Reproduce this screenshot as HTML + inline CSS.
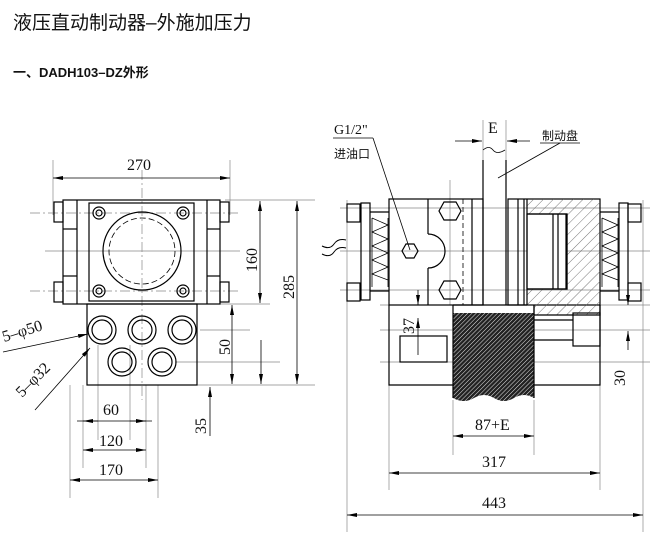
<!DOCTYPE html>
<html><head><meta charset="utf-8"><style>
html,body{margin:0;padding:0;background:#fff;width:650px;height:539px;overflow:hidden}
svg{display:block}
.t{font-family:"Liberation Sans","Noto Sans CJK SC",sans-serif}
.d{font-family:"Liberation Serif","Noto Serif CJK SC",serif;font-size:16px}
</style></head><body>
<svg width="650" height="539" viewBox="0 0 650 539" xmlns="http://www.w3.org/2000/svg">
<defs>
<pattern id="h1" width="3" height="3" patternUnits="userSpaceOnUse" patternTransform="rotate(45)"><rect width="3" height="3" fill="#222"/><line x1="0" y1="0" x2="0" y2="3" stroke="#fff" stroke-width="0.9"/></pattern>
<pattern id="h2" width="7" height="7" patternUnits="userSpaceOnUse" patternTransform="rotate(45)"><line x1="0" y1="0" x2="0" y2="7" stroke="#555" stroke-width="0.8"/></pattern>
<marker id="a" viewBox="0 0 10 4" refX="10" refY="2" markerWidth="10" markerHeight="4" orient="auto-start-reverse" markerUnits="userSpaceOnUse"><path d="M0,0L10,2L0,4z" fill="#000"/></marker>
</defs>
<text x="13" y="29" class="t" font-size="19" fill="#111">液压直动制动器–外施加压力</text>
<text x="13" y="77" class="t" font-size="13" font-weight="bold" fill="#111">一、DADH103–DZ外形</text>

<g stroke="#888" stroke-width="0.7" fill="none">
<line x1="53" y1="160" x2="53" y2="215"/><line x1="230" y1="160" x2="230" y2="215"/>
<line x1="225" y1="200" x2="315" y2="200"/><line x1="200" y1="304" x2="270" y2="304"/>
<line x1="200" y1="330" x2="250" y2="330"/><line x1="175" y1="362" x2="280" y2="362"/>
<line x1="197" y1="385" x2="315" y2="385"/>
<line x1="70" y1="385" x2="70" y2="498"/><line x1="158" y1="385" x2="158" y2="498"/>
<line x1="83" y1="385" x2="83" y2="468"/><line x1="146" y1="385" x2="146" y2="468"/>
<line x1="98" y1="345" x2="98" y2="440"/><line x1="130" y1="345" x2="130" y2="440"/>
<line x1="142" y1="170" x2="142" y2="400" stroke-dasharray="10,3,2,3"/>
<line x1="45" y1="251" x2="240" y2="251"/>
<line x1="30" y1="213" x2="240" y2="213" stroke-dasharray="10,3,2,3"/>
<line x1="30" y1="291" x2="240" y2="291" stroke-dasharray="10,3,2,3"/>
<line x1="347" y1="200" x2="347" y2="532"/><line x1="643" y1="200" x2="643" y2="532"/>
<line x1="389" y1="385" x2="389" y2="490"/><line x1="600" y1="385" x2="600" y2="490"/>
<line x1="453" y1="400" x2="453" y2="455"/><line x1="534" y1="400" x2="534" y2="455"/>
<line x1="483" y1="120" x2="483" y2="160"/><line x1="506" y1="120" x2="506" y2="160"/>
<line x1="340" y1="251" x2="650" y2="251"/>
<line x1="340" y1="290" x2="650" y2="290"/><line x1="340" y1="208" x2="650" y2="208"/>
<line x1="380" y1="305" x2="650" y2="305"/><line x1="380" y1="330" x2="650" y2="330"/>
<line x1="380" y1="362" x2="650" y2="362"/>
<line x1="450" y1="180" x2="450" y2="305"/>
</g>

<g stroke="#000" stroke-width="1.2" fill="none">
<rect x="63" y="200" width="157" height="104"/>
<line x1="77" y1="200" x2="77" y2="304"/><line x1="207" y1="200" x2="207" y2="304"/>
<line x1="63" y1="229" x2="77" y2="229"/><line x1="63" y1="276" x2="77" y2="276"/>
<line x1="207" y1="229" x2="220" y2="229"/><line x1="207" y1="276" x2="220" y2="276"/>
<rect x="89" y="203" width="105" height="98"/>
<circle cx="142" cy="251" r="39"/>
<circle cx="142" cy="251" r="33" stroke-dasharray="6,3" stroke-width="0.8"/>
<circle cx="99" cy="213" r="6"/><circle cx="99" cy="213" r="3"/>
<circle cx="183" cy="213" r="6"/><circle cx="183" cy="213" r="3"/>
<circle cx="99" cy="291" r="6"/><circle cx="99" cy="291" r="3"/>
<circle cx="183" cy="291" r="6"/><circle cx="183" cy="291" r="3"/>
<rect x="54" y="202" width="9" height="20"/><rect x="54" y="282" width="9" height="20"/>
<rect x="220" y="202" width="9" height="20"/><rect x="220" y="282" width="9" height="20"/>
<rect x="87" y="304" width="110" height="81"/>
<circle cx="102" cy="330" r="14"/><circle cx="102" cy="330" r="10"/>
<circle cx="142" cy="330" r="14"/><circle cx="142" cy="330" r="10"/>
<circle cx="182" cy="330" r="14"/><circle cx="182" cy="330" r="10"/>
<circle cx="122" cy="362" r="14"/><circle cx="122" cy="362" r="10"/>
<circle cx="162" cy="362" r="14"/><circle cx="162" cy="362" r="10"/>
</g>
<g stroke="#000" stroke-width="0.8" fill="none">
<line x1="53" y1="178" x2="230" y2="178" marker-start="url(#a)" marker-end="url(#a)"/>
<line x1="260" y1="201" x2="260" y2="303" marker-start="url(#a)" marker-end="url(#a)"/>
<line x1="297" y1="201" x2="297" y2="384" marker-start="url(#a)" marker-end="url(#a)"/>
<line x1="232" y1="305" x2="232" y2="384" marker-start="url(#a)" marker-end="url(#a)"/>
<line x1="261" y1="340" x2="261" y2="384" marker-end="url(#a)"/>
<line x1="210" y1="436" x2="210" y2="387" marker-end="url(#a)"/>
<line x1="77" y1="421" x2="152" y2="421"/>
<line x1="83" y1="421" x2="98" y2="421" marker-start="url(#a)"/>
<line x1="130" y1="421" x2="146" y2="421" marker-end="url(#a)"/>
<line x1="83" y1="450" x2="146" y2="450" marker-start="url(#a)" marker-end="url(#a)"/>
<line x1="70" y1="480" x2="158" y2="480" marker-start="url(#a)" marker-end="url(#a)"/>
<line x1="3" y1="352" x2="88" y2="334" marker-end="url(#a)"/>
<line x1="35" y1="410" x2="90" y2="348" marker-end="url(#a)"/>
</g>
<g class="d" fill="#111">
<text x="127" y="170">270</text>
<text transform="translate(257,272) rotate(-90)">160</text>
<text transform="translate(294,299) rotate(-90)">285</text>
<text transform="translate(230,355) rotate(-90)">50</text>
<text transform="translate(206,434) rotate(-90)">35</text>
<text x="103" y="415">60</text>
<text x="99" y="446">120</text>
<text x="99" y="475">170</text>
<text transform="translate(4,342) rotate(-17)">5–φ50</text>
<text transform="translate(22,398) rotate(-45)">5–φ32</text>
</g>

<g stroke="#000" stroke-width="1.2" fill="none">
<path d="M483,160 L483,305 M506,160 L506,305"/>
<path d="M483,150 q6,-5 10,0 t12,0" stroke-width="0.8"/>
<rect x="389" y="199" width="94" height="106"/>
<line x1="428" y1="199" x2="428" y2="234"/><line x1="428" y1="268" x2="428" y2="305"/>
<path d="M428,234 A17,17 0 0 1 428,268"/>
<line x1="463" y1="199" x2="463" y2="305" stroke-dasharray="5,3" stroke-width="0.8"/>
<line x1="472" y1="199" x2="472" y2="305"/>
<polygon points="444,202 456,202 461,211 456,220 444,220 439,211"/>
<polygon points="444,281 456,281 461,290 456,299 444,299 439,290"/>
<polygon points="406,244 414,244 418,251 414,258 406,258 402,251"/>
<rect x="508" y="199" width="92" height="106"/>
<line x1="518" y1="199" x2="518" y2="305"/><line x1="524" y1="199" x2="524" y2="305"/>
<path d="M527,199 H600 V315 H534 V305 H527 Z" fill="url(#h2)" stroke="none"/>
<rect x="527" y="214" width="40" height="75" fill="#fff"/>
<line x1="553" y1="214" x2="553" y2="289"/><line x1="558" y1="214" x2="558" y2="289"/><line x1="566" y1="214" x2="566" y2="289"/>
<path d="M527,214 H567 V289 H527"/>
<path d="M527,199 V305"/>
<path d="M534,305 V315 H600 V305"/>
<!-- left spring pack -->
<rect x="347" y="204" width="13" height="18"/><rect x="347" y="283" width="13" height="18"/>
<rect x="361" y="203" width="9" height="97"/>
<path d="M370,212 h19 M370,291 h19"/>
<path d="M372,218 l16,7 l-16,7 l16,7 l-16,7 l16,7 l-16,7 l16,7 l-16,7 l16,6 M372,218 v69 M388,218 v69" stroke-width="0.8"/>
<!-- right spring pack -->
<rect x="628" y="204" width="13" height="18"/><rect x="628" y="283" width="13" height="18"/>
<rect x="619" y="203" width="9" height="97"/>
<path d="M600,212 h19 M600,291 h19"/>
<path d="M602,218 l16,7 l-16,7 l16,7 l-16,7 l16,7 l-16,7 l16,7 l-16,7 l16,6 M602,218 v69 M618,218 v69" stroke-width="0.8"/>
<path d="M346,240 q-8,-2 -12,4 q-4,6 -12,2 M346,248 q-8,-2 -12,4 q-4,6 -12,2" stroke-width="1"/>
<path d="M389,305 V385 H600 V305"/>
<rect x="400" y="336" width="47" height="26"/>
<rect x="573" y="313" width="27" height="33"/>
<line x1="534" y1="320" x2="573" y2="320"/><line x1="534" y1="340" x2="573" y2="340"/>
<path d="M453,313 H534 V398 q-10,-6 -20,0 q-10,6 -20,0 q-10,-6 -20,0 q-10,6 -21,0 Z" fill="url(#h1)" stroke="none"/>
<path d="M453,305 V398 M534,305 V398 M453,305 H527"/>
</g>
<g stroke="#000" stroke-width="0.8" fill="none">
<line x1="455" y1="141" x2="482" y2="141" marker-end="url(#a)"/>
<line x1="530" y1="141" x2="507" y2="141" marker-end="url(#a)"/>
<line x1="560" y1="143" x2="498" y2="178"/><line x1="540" y1="143" x2="580" y2="143"/>
<line x1="333" y1="138" x2="373" y2="138"/><line x1="373" y1="138" x2="410" y2="250"/>
<line x1="418" y1="290" x2="418" y2="305" marker-end="url(#a)"/>
<line x1="418" y1="355" x2="418" y2="318" marker-end="url(#a)"/>
<line x1="628" y1="280" x2="628" y2="305" marker-end="url(#a)"/>
<line x1="628" y1="350" x2="628" y2="331" marker-end="url(#a)"/>
<line x1="453" y1="436" x2="534" y2="436" marker-start="url(#a)" marker-end="url(#a)"/>
<line x1="389" y1="473" x2="600" y2="473" marker-start="url(#a)" marker-end="url(#a)"/>
<line x1="347" y1="515" x2="643" y2="515" marker-start="url(#a)" marker-end="url(#a)"/>
</g>
<g class="d" fill="#111">
<text x="334" y="134" font-size="14">G1/2"</text>
<text x="488" y="133">E</text>
<text x="475" y="430">87+E</text>
<text x="482" y="467">317</text>
<text x="482" y="508">443</text>
<text transform="translate(414,334) rotate(-90)">37</text>
<text transform="translate(625,386) rotate(-90)">30</text>
</g>
<text x="334" y="158" class="t" font-size="12" fill="#111">进油口</text>
<text x="542" y="140" class="t" font-size="12" fill="#111">制动盘</text>
</svg>
</body></html>
